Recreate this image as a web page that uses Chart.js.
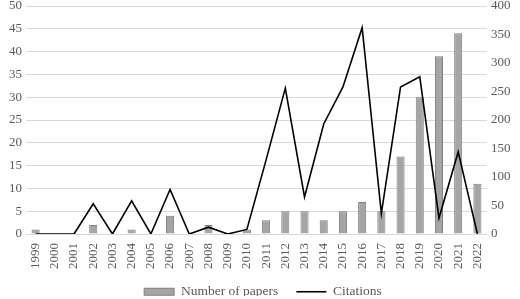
<!DOCTYPE html>
<html><head><meta charset="utf-8">
<script src="https://cdn.jsdelivr.net/npm/chart.js@4"></script>
<style>html,body{margin:0;padding:0;background:#fff}#w{width:520px;height:299px}</style>
</head><body><div id="w"><canvas id="c" width="520" height="299"></canvas></div>
<script>
const years = ["1999","2000","2001","2002","2003","2004","2005","2006","2007","2008","2009","2010","2011","2012","2013","2014","2015","2016","2017","2018","2019","2020","2021","2022"];
const papers = [1,0,0,2,0,1,0,4,0,2,0,1,3,5,5,3,5,7,5,17,30,39,44,11];
const citations = [0,0,0,53,0,58,0,78,0,12,0,8,130,256,65,193,258,362,36,258,276,28,144,0];
const leftTicks = [0,50,5];
const rightTicks = [0,400,50];
const FONT = "'Liberation Serif','Times New Roman',serif";
const TXT = '#595959';
function fixY(w){ return function(s){ s.width = w; s.paddingTop = 6; s.paddingBottom = 0; }; }
const legendHeight = {
  id:'legendHeight',
  beforeLayout(chart){
    const lg = chart.legend;
    if (lg && !lg._patched){
      const orig = lg.fit;
      lg.fit = function(){ orig.call(this); this.height = 29; };
      lg._patched = true;
    }
  },
  afterLayout(chart){
    const lg = chart.legend;
    if (lg){ lg.top -= 3; lg.bottom -= 3; lg.left += 3; lg.right += 3; }
  }
};
new Chart(document.getElementById('c'), {
  data: {
    labels: years,
    datasets: [
      {type:'line', label:'Citations', data:citations, yAxisID:'y1', borderColor:'#000', backgroundColor:'#000', borderWidth:1.6, pointRadius:0, pointStyle:'line', tension:0, order:0},
      {type:'bar', label:'Number of papers', data:papers, yAxisID:'y', backgroundColor:'#a5a5a5', borderColor:'#7f7f7f', borderWidth:1, pointStyle:'rect', categoryPercentage:1, barPercentage:0.42, order:1}
    ]
  },
  plugins:[legendHeight],
  options: {
    responsive:false, animation:false,
    layout:{padding:{top:0,left:0,right:0,bottom:0}},
    plugins:{
      tooltip:{enabled:false},
      legend:{position:'bottom', reverse:true,
        labels:{font:{family:FONT,size:13.5}, color:TXT, usePointStyle:true, pointStyleWidth:30, boxHeight:7, padding:18,
          generateLabels(chart){
            const items = Chart.defaults.plugins.legend.labels.generateLabels(chart);
            items.forEach(it=>{ const ds = chart.data.datasets[it.datasetIndex]; it.pointStyle = ds.pointStyle; });
            return items;
          }}}
    },
    scales:{
      x:{grid:{display:false, drawTicks:false}, border:{display:false},
        ticks:{font:{family:FONT,size:13}, color:TXT, minRotation:90, maxRotation:90, autoSkip:false, padding:9},
        afterFit(s){ s.height = 36; }},
      y:{position:'left', min:leftTicks[0], max:leftTicks[1], ticks:{stepSize:leftTicks[2], font:{family:FONT,size:13}, color:TXT, padding:4},
        grid:{color:'#d9d9d9', lineWidth:1, drawTicks:false}, border:{display:false},
        afterFit:fixY(26)},
      y1:{position:'right', min:rightTicks[0], max:rightTicks[1], ticks:{stepSize:rightTicks[2], font:{family:FONT,size:13}, color:TXT, padding:4},
        grid:{display:false, drawTicks:false}, border:{display:false},
        afterFit:fixY(33)}
    }
  }
});
</script></body></html>
